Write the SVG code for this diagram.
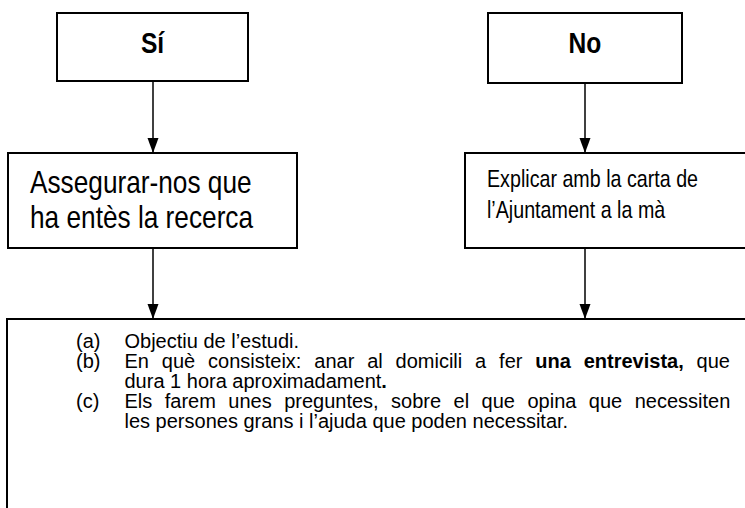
<svg xmlns="http://www.w3.org/2000/svg" width="745" height="508" viewBox="0 0 745 508">
<style>
.box{fill:#fff;stroke:#000;stroke-width:2}
.conn{stroke:#000;stroke-width:1.5;fill:none;marker-end:url(#arr)}
.t{font-family:"Liberation Sans",Arial,sans-serif;fill:#000}
.lbl{font-size:30px;font-weight:bold;text-anchor:middle}
.big{font-size:32px}
.mid{font-size:24px}
.body{font-size:20px}
.b{font-weight:bold}
</style>
<defs>
<marker id="arr" viewBox="0 -6 15 12" markerWidth="15" markerHeight="12" refX="15" refY="0" orient="auto" markerUnits="userSpaceOnUse">
<path d="M0,-5.5 L15,0 L0,5.5 Z" fill="#000"/>
</marker>
</defs>
<rect width="745" height="508" fill="#fff"/>
<g id="connectors">
<line class="conn" x1="153" y1="81" x2="153" y2="153"/>
<line class="conn" x1="585" y1="80" x2="585" y2="153"/>
<line class="conn" x1="153" y1="248" x2="153" y2="319"/>
<line class="conn" x1="585" y1="248" x2="585" y2="319"/>
</g>
<g id="node-si">
<rect class="box" x="57" y="13" width="191" height="68"/>
<text class="t lbl" transform="translate(152.5,53) scale(0.82,1)">Sí</text>
</g>
<g id="node-no">
<rect class="box" x="488" y="13" width="194" height="70"/>
<text class="t lbl" transform="translate(585,53) scale(0.82,1)">No</text>
</g>
<g id="node-assegurar">
<rect class="box" x="8" y="153" width="289" height="95"/>
<text class="t big" transform="translate(30,193) scale(0.82,1)">Assegurar-nos que</text>
<text class="t big" transform="translate(30,228) scale(0.82,1)">ha entès la recerca</text>
</g>
<g id="node-explicar">
<rect class="box" x="465" y="153" width="290" height="95"/>
<text class="t mid" transform="translate(487,187) scale(0.82,1)">Explicar amb la carta de</text>
<text class="t mid" transform="translate(487,218) scale(0.82,1)">l’Ajuntament a la mà</text>
</g>
<g id="node-info">
<rect class="box" x="7" y="319" width="760" height="200"/>
<g class="t body">
<text x="76" y="348">(a)</text>
<text x="124.5" y="348">Objectiu de l’estudi.</text>
<text x="76" y="368">(b)</text>
<text x="124.5" y="368" word-spacing="7.3">En què consisteix: anar al domicili a fer <tspan class="b">una entrevista,</tspan> que</text>
<text x="124.5" y="388">dura 1 hora aproximadament<tspan class="b">.</tspan></text>
<text x="76" y="408">(c)</text>
<text x="124.5" y="408" word-spacing="6.9">Els farem unes preguntes, sobre el que opina que necessiten</text>
<text x="124.5" y="428">les persones grans i l’ajuda que poden necessitar.</text>
</g>
</g>
</svg>
